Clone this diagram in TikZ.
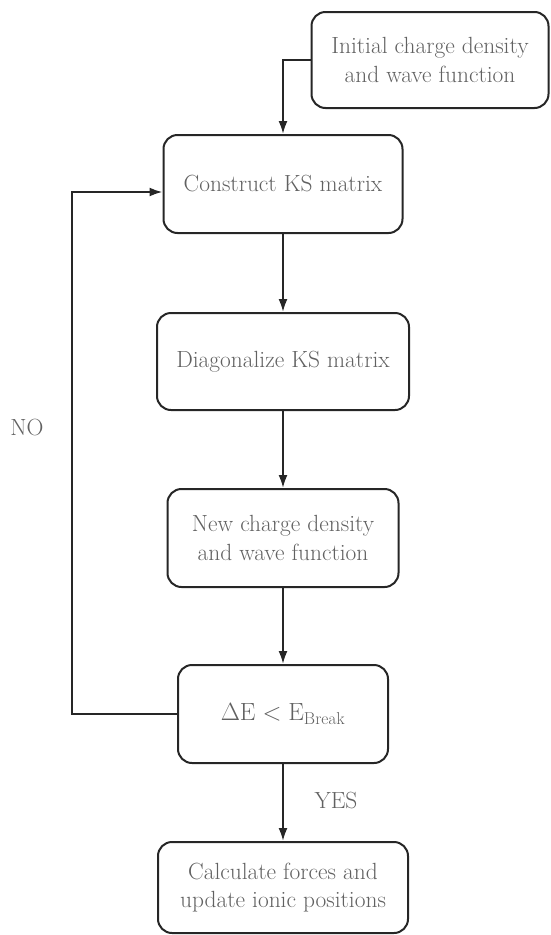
\documentclass[tikz,border=0pt]{standalone}
\usetikzlibrary{arrows.meta}
\begin{document}
\begin{tikzpicture}[x=1pt,y=-1pt,
  box/.style={draw=black!85, line width=2pt, rounded corners=14pt, align=center,
    text=black!62, font=\fontsize{23.4}{28.5}\selectfont, inner sep=0pt},
  conn/.style={draw=black!85, line width=2pt, -{Latex[length=13pt,width=9pt]}},
  lbl/.style={text=black!62, font=\fontsize{23.4}{28.5}\selectfont}]
\useasboundingbox (0,0) rectangle (550,935);
\node[box, minimum width=237pt, minimum height=96pt] (b1) at (430,60) {Initial charge density\\and wave function};
\node[box, minimum width=239pt, minimum height=98pt] (b2) at (283,184) {Construct KS matrix};
\node[box, minimum width=252pt, minimum height=97pt] (b3) at (283,361.5) {Diagonalize KS matrix};
\node[box, minimum width=231pt, minimum height=98pt] (b4) at (283,538) {New charge density\\and wave function};
\node[box, minimum width=210pt, minimum height=98pt] (b5) at (283,714) {$\Delta\mathrm{E} < \mathrm{E}_{\mathrm{Break}}$};
\node[box, minimum width=250pt, minimum height=91pt] (b6) at (283,887.5) {Calculate forces and\\update ionic positions};
\coordinate (loopL) at (72,192);
\draw[conn] (b1.west) -| (b2.north);
\draw[conn] (b2.south) -- (b3.north);
\draw[conn] (b3.south) -- (b4.north);
\draw[conn] (b4.south) -- (b5.north);
\draw[conn] (b5.south) -- (b6.north);
\draw[conn, rounded corners=0pt] (b5.west) -| (loopL) -- (b2.west |- loopL);
\node[lbl] (no) at (27,428) {NO};
\node[lbl] (yes) at (336,800) {YES};
\end{tikzpicture}
\end{document}
